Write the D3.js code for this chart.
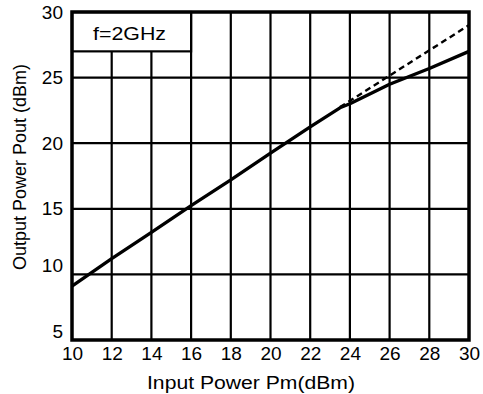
<!DOCTYPE html>
<html>
<head>
<meta charset="utf-8">
<script src="https://cdn.jsdelivr.net/npm/d3@7"></script>
<style>
  html, body { margin: 0; padding: 0; background: #fff; }
  svg { display: block; font-family: "Liberation Sans", Arial, sans-serif; }
</style>
</head>
<body>
<div id="chart"></div>
<script>
// data
const xTicks = [10, 12, 14, 16, 18, 20, 22, 24, 26, 28, 30];
const yTicks = [5, 10, 15, 20, 25, 30];
const inputPower = [10, 12, 14, 16, 18, 20, 22, 23.5, 24, 26, 28, 30];
const outputPower = [9.1, 11.2, 13.2, 15.25, 17.2, 19.25, 21.25, 22.7, 23.0, 24.5, 25.7, 27.0];
const linearInput = [23.5, 30];
const linearOutput = [22.75, 29.0];
const legendLabel = 'f=2GHz';
const legendSpan = [10, 16, 27, 30];

const W = 483, H = 394;
const margin = { top: 12, right: 14, bottom: 54, left: 72 };
const width = W - margin.left - margin.right;
const height = H - margin.top - margin.bottom;

const svg = d3.select('#chart').append('svg')
    .attr('width', W)
    .attr('height', H)
  .append('g')
    .attr('transform', `translate(${margin.left},${margin.top})`);

const x = d3.scaleLinear().domain([10, 30]).range([0, width]);
const y = d3.scaleLinear().domain([5, 30]).range([height, 0]);

// grid
svg.append('g')
  .selectAll('line')
  .data(xTicks.slice(1, -1))
  .join('line')
    .attr('x1', d => x(d)).attr('x2', d => x(d))
    .attr('y1', 0).attr('y2', height)
    .attr('stroke', '#000').attr('stroke-width', 2.2);

svg.append('g')
  .selectAll('line')
  .data(yTicks.slice(1, -1))
  .join('line')
    .attr('x1', 0).attr('x2', width)
    .attr('y1', d => y(d)).attr('y2', d => y(d))
    .attr('stroke', '#000').attr('stroke-width', 2.2);

// legend box (covers the grid)
svg.append('rect')
  .attr('x', x(legendSpan[0]))
  .attr('y', y(legendSpan[3]))
  .attr('width', x(legendSpan[1]) - x(legendSpan[0]))
  .attr('height', y(legendSpan[2]) - y(legendSpan[3]))
  .attr('fill', '#fff')
  .attr('stroke', '#000')
  .attr('stroke-width', 2.2);

svg.append('text')
  .attr('x', 21)
  .attr('y', 28)
  .attr('textLength', 73)
  .attr('lengthAdjust', 'spacingAndGlyphs')
  .style('font-size', '18px')
  .text(legendLabel);

// curves
const line = d3.line().x(d => x(d[0])).y(d => y(d[1]));

svg.append('path')
  .datum(d3.zip(linearInput, linearOutput))
  .attr('d', line)
  .attr('fill', 'none')
  .attr('stroke', '#000')
  .attr('stroke-width', 2.4)
  .attr('stroke-dasharray', '6,4');

svg.append('path')
  .datum(d3.zip(inputPower, outputPower))
  .attr('d', line)
  .attr('fill', 'none')
  .attr('stroke', '#000')
  .attr('stroke-width', 3.3)
  .attr('stroke-linejoin', 'round');

// frame
svg.append('rect')
  .attr('width', width).attr('height', height)
  .attr('fill', 'none')
  .attr('stroke', '#000')
  .attr('stroke-width', 3.5);

// axes
const xAxis = svg.append('g')
  .attr('transform', `translate(0,${height})`)
  .call(d3.axisBottom(x).tickValues(xTicks).tickSize(0).tickPadding(7));
xAxis.select('.domain').remove();
xAxis.selectAll('text').style('font-size', '19px').attr('fill', '#000')
  .attr('font-family', null);

const yAxis = svg.append('g')
  .call(d3.axisLeft(y).tickValues(yTicks).tickSize(0).tickPadding(9));
yAxis.select('.domain').remove();
yAxis.selectAll('text').style('font-size', '19px').attr('fill', '#000')
  .attr('font-family', null)
  .attr('dy', d => d <= 10 ? '-0.15em' : '0.32em');

svg.append('text')
  .attr('x', 75)
  .attr('y', height + 49)
  .attr('textLength', 208)
  .attr('lengthAdjust', 'spacingAndGlyphs')
  .style('font-size', '18px')
  .text('Input Power Pm(dBm)');

svg.append('text')
  .attr('transform', `translate(${-margin.left + 26},${height / 2 - 9}) rotate(-90)`)
  .attr('text-anchor', 'middle')
  .style('font-size', '18px')
  .text('Output Power Pout (dBm)');
</script>
</body>
</html>
